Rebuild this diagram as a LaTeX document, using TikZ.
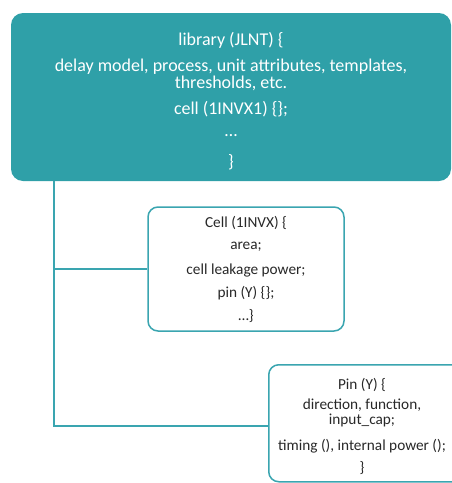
\documentclass[tikz,border=0pt]{standalone}
\usepackage{fontspec}
\setmainfont{Carlito}
\definecolor{tealfill}{RGB}{47,160,168}
\definecolor{tealline}{RGB}{58,165,176}
\definecolor{txtgray}{RGB}{40,40,40}
\begin{document}
\begin{tikzpicture}[x=1pt,y=1pt,
  topbox/.style={fill=tealfill,draw=none,rounded corners=12pt},
  subbox/.style={fill=white,draw=tealline,line width=1.5pt,rounded corners=10pt},
  conn/.style={draw=tealline,line width=1.5pt},
  toptext/.style={text=white,font=\fontsize{18}{17.5}\selectfont,align=center,inner sep=0pt},
  subtext/.style={text=txtgray,font=\fontsize{15.3}{15}\selectfont,align=center,inner sep=0pt}]
\useasboundingbox (0,0) rectangle (452,-483);
\clip (0,0) rectangle (452,-483);
% top box
\path[topbox] (11,-13) rectangle (451,-181);
\node[toptext] (t1) at (231,-40) {library (JLNT) \{};
\node[toptext] (t2) at (231,-75) {delay model, process, unit attributes, templates,\\thresholds, etc.};
\node[toptext] (t3) at (231,-109) {cell (1INVX1) \{\};};
\node[toptext] (t4) at (231,-136) {\dots};
\node[toptext] (t5) at (231,-162) {\}};
\coordinate (top) at (54,-181);
\coordinate (corner) at (54,-426);
% cell box
\node[subbox,minimum width=196pt,minimum height=124pt,inner sep=0pt] (cell) at (246,-269) {};
\node[subtext] (c1) at (246,-223) {Cell (1INVX) \{};
\node[subtext] (c2) at (246,-247) {area;};
\node[subtext] (c3) at (246,-270) {cell leakage power;};
\node[subtext] (c4) at (246,-293) {pin (Y) \{\};};
\node[subtext] (c5) at (246,-316) {\dots\}};
% pin box
\node[subbox,minimum width=210pt,minimum height=117pt,inner sep=0pt,anchor=north west] (pin) at (268,-364) {};
\node[subtext] (p1) at (362,-385) {Pin (Y) \{};
\node[subtext] (p2) at (362,-413) {direction, function,\\input\_cap;};
\node[subtext] (p3) at (362,-446) {timing (), internal power ();};
\node[subtext] (p4) at (362,-468) {\}};
% connectors
\draw[conn] (top) -- (corner) -- (corner -| pin.west);
\draw[conn] (54,-269) -- (cell.west);
\end{tikzpicture}
\end{document}
